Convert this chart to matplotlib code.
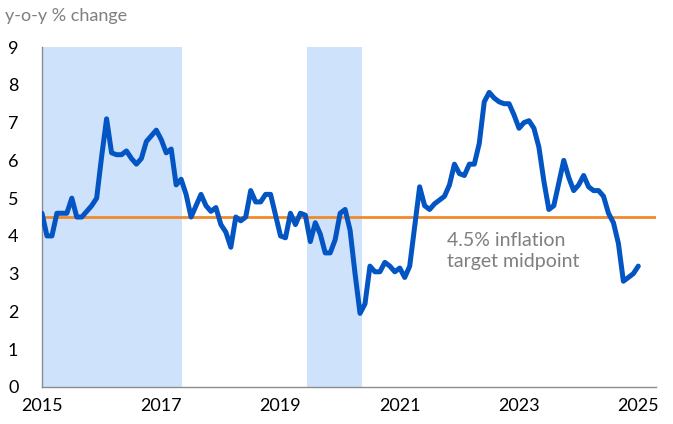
import numpy as np
import matplotlib
matplotlib.use("Agg")
import matplotlib.pyplot as plt

plt.rcParams['font.family'] = ['Lato', 'DejaVu Sans']

# monthly y-o-y CPI, Jan 2015 .. Jan 2025
cpi = [4.6, 4.0, 4.0, 4.6, 4.6, 4.6, 5.0, 4.5, 4.5, 4.65, 4.8, 5.0,
       6.1, 7.1, 6.2, 6.15, 6.15, 6.25, 6.05, 5.9, 6.05, 6.5, 6.65, 6.8,
       6.55, 6.2, 6.3, 5.35, 5.5, 5.1, 4.5, 4.8, 5.1, 4.8, 4.65, 4.75,
       4.3, 4.1, 3.7, 4.5, 4.4, 4.5, 5.2, 4.9, 4.9, 5.1, 5.1, 4.55,
       4.0, 3.95, 4.6, 4.3, 4.6, 4.55, 3.85, 4.35, 4.05, 3.55, 3.55, 3.9,
       4.6, 4.7, 4.15, 3.0, 1.95, 2.2, 3.2, 3.05, 3.05, 3.3, 3.2, 3.05,
       3.15, 2.9, 3.2, 4.25, 5.3, 4.8, 4.7, 4.85, 4.95, 5.05, 5.35, 5.9,
       5.65, 5.6, 5.9, 5.9, 6.45, 7.55, 7.8, 7.65, 7.55, 7.5, 7.5, 7.2,
       6.85, 7.0, 7.05, 6.85, 6.35, 5.45, 4.7, 4.8, 5.4, 6.0, 5.55, 5.2,
       5.35, 5.6, 5.3, 5.2, 5.2, 5.05, 4.6, 4.35, 3.8, 2.8, 2.9, 3.0, 3.2]
start_year = 2015
target = 4.5
shaded = [(2015.0, 2017.34), (2019.45, 2020.36)]
xticks = [2015, 2017, 2019, 2021, 2023, 2025]
yticks = list(range(0, 10))

x = start_year + np.arange(len(cpi)) / 12.0

fig = plt.figure(figsize=(6.73, 4.24), dpi=100)
ax = fig.add_axes([0.0624, 0.0873, 0.9126, 0.8017])

for a, b in shaded:
    ax.axvspan(a, b, color='#cfe2fc', lw=0, zorder=0)

ax.axhline(target, color='#f08a2c', lw=2, zorder=2)
ax.plot(x, cpi, color='#0255c3', lw=3.6, solid_joinstyle='round',
        solid_capstyle='round', zorder=3)

ax.text(2021.8, 4.1, '4.5% inflation\ntarget midpoint', color='#7f7f7f',
        fontsize=14, va='top', ha='left', linespacing=1.3)

ax.set_xlim(2015, 2025.3)
ax.set_ylim(0, 9)
ax.set_xticks(xticks)
ax.set_yticks(yticks)
ax.tick_params(length=0, labelsize=13, colors='black')
ax.tick_params(axis='y', pad=17)
ax.tick_params(axis='x', pad=8)

for s in ['top', 'right']:
    ax.spines[s].set_visible(False)
for s in ['left', 'bottom']:
    ax.spines[s].set_color('#8c8c8c')
    ax.spines[s].set_linewidth(1)

fig.text(0.007, 0.963, 'y-o-y % change', color='#7f7f7f', fontsize=13,
         va='center', ha='left')

fig.savefig('out.png', dpi=100)
